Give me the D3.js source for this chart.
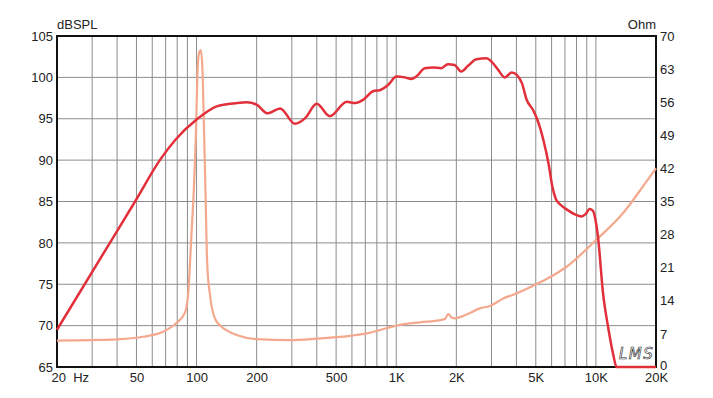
<!DOCTYPE html>
<html><head><meta charset="utf-8">
<script src="https://cdn.jsdelivr.net/npm/d3@7"></script>
<style>body{margin:0;background:#fff}svg{display:block}</style>
</head><body><svg id="c" width="713" height="398"></svg>
<script>
// ---- data ----
const splFreq = [20,37,49.2,65.5,78,100,126,147,178,200,227,262,311,349,400,465,565,623,684,770,828,913,1003,1102,1190,1260,1390,1530,1680,1815,1960,2117,2290,2520,2830,3000,3240,3500,3790,4015,4260,4500,4860,5070,5450,5800,6050,6300,6660,7130,7850,8480,8900,9300,9650,9950,10250,10860,11500,12190,12700,20000];
const splDb   = [69.5,80.1,85,90,92.4,94.9,96.5,96.8,97.0,96.7,95.65,96.25,94.4,95.05,96.8,95.3,97.05,96.9,97.3,98.35,98.45,99.1,100.1,100.0,99.8,100.1,101.1,101.2,101.1,101.6,101.5,100.7,101.4,102.2,102.3,101.9,100.9,100.0,100.6,100.3,99.3,97.3,96.0,95.0,92.5,89.5,86.8,85.3,84.6,84.05,83.45,83.2,83.5,84.1,83.9,82.8,80.7,73.9,69.9,66.6,65,65];
const impFreq = [20,30,40,54,68,79,87.5,91,94,97,99.5,101,103,105,107,109,111,113,117,123,131,141,160,200,294,399,586,711,895,1043,1314,1655,1760,1820,1900,1967,2250,2620,2945,3435,3855,4852,5660,7130,10050,13660,17900,20000];
const impOhm  = [5.56,5.7,5.86,6.4,7.47,9.24,11.5,16,27,38,51,62,66.5,67,63,50,36,22,14.9,10.5,8.8,7.8,6.7,5.9,5.7,6.0,6.6,7.1,8.2,8.9,9.45,9.9,10.2,11.2,10.4,10.3,11.1,12.4,12.9,14.5,15.3,17.2,18.6,21.2,26.9,32.5,39.2,42];
const leftTicks = [65,70,75,80,85,90,95,100,105];
const rightTicks = [0,7,14,21,28,35,42,49,56,63,70];
const xTickValues = [20,50,100,200,500,1000,2000,5000,10000,20000];
const xTickLabels = ["20\u00a0\u00a0Hz","50","100","200","500","1K","2K","5K","10K","20K"];
const gridFreqs = [30,40,50,60,70,80,90,100,200,300,400,500,600,700,800,900,1000,2000,3000,4000,5000,6000,7000,8000,9000,10000];

// ---- layout ----
const L = 57, R = 656, T = 36, B = 367;
const svg = d3.select("#c");
const x = d3.scaleLog().domain([20,20000]).range([L,R]);
const yL = d3.scaleLinear().domain([65,105]).range([B,T]);
const yR = d3.scaleLinear().domain([0,70]).range([B,T]);
const font = "'Liberation Sans', Arial, sans-serif";

// grid
svg.append("g").selectAll("line").data(gridFreqs).join("line")
  .attr("x1", d => x(d)).attr("x2", d => x(d)).attr("y1", T).attr("y2", B)
  .attr("stroke", "#8c8c8c").attr("stroke-width", 1);
svg.append("g").selectAll("line").data(leftTicks.slice(1,-1)).join("line")
  .attr("x1", L).attr("x2", R).attr("y1", d => yL(d)).attr("y2", d => yL(d))
  .attr("stroke", "#8c8c8c").attr("stroke-width", 1);

// frame
svg.append("rect").attr("x", L).attr("y", T).attr("width", R-L).attr("height", B-T)
  .attr("fill", "none").attr("stroke", "#111").attr("stroke-width", 2);

// axes labels via d3 axes (tick lines hidden)
const axL = svg.append("g").attr("transform", `translate(${L},0)`)
  .call(d3.axisLeft(yL).tickValues(leftTicks).tickSize(0).tickPadding(4));
const axR = svg.append("g").attr("transform", `translate(${R},0)`)
  .call(d3.axisRight(yR).tickValues(rightTicks).tickSize(0).tickPadding(4));
const axB = svg.append("g").attr("transform", `translate(0,${B})`)
  .call(d3.axisBottom(x).tickValues(xTickValues).tickSize(0).tickPadding(6)
    .tickFormat((d,i) => xTickLabels[i]));
[axL, axR, axB].forEach(a => {
  a.select(".domain").remove();
  a.selectAll("text").attr("font-family", font).attr("font-size", 13).attr("fill", "#222");
});
axR.selectAll(".tick").filter(d => d === 0).select("text").attr("dy", "0.2em");
axB.selectAll(".tick").filter(d => d === 20).select("text")
  .attr("text-anchor", "start").attr("x", -6);

svg.append("text").attr("x", L).attr("y", 29).text("dBSPL")
  .attr("font-family", font).attr("font-size", 13).attr("fill", "#222");
svg.append("text").attr("x", R).attr("y", 29).attr("text-anchor", "end").text("Ohm")
  .attr("font-family", font).attr("font-size", 13).attr("fill", "#222");

// curves
svg.append("path")
  .datum(impFreq.map((f,i) => [f, impOhm[i]]))
  .attr("d", d3.line().x(d => x(d[0])).y(d => yR(d[1])).curve(d3.curveMonotoneX))
  .attr("fill", "none").attr("stroke", "#f4a88e").attr("stroke-width", 2.2);
svg.append("path")
  .datum(splFreq.map((f,i) => [f, splDb[i]]))
  .attr("d", d3.line().x(d => x(d[0])).y(d => yL(d[1])).curve(d3.curveMonotoneX))
  .attr("fill", "none").attr("stroke", "#e2303b").attr("stroke-width", 2.5);

// logo
svg.append("text").attr("x", 619).attr("y", 359).text("LMS")
  .attr("font-family", "'DejaVu Sans', sans-serif").attr("font-style", "italic")
  .attr("font-size", 15).attr("letter-spacing", 1.5)
  .attr("fill", "none").attr("stroke", "#222").attr("stroke-width", 0.6);
</script></body></html>
